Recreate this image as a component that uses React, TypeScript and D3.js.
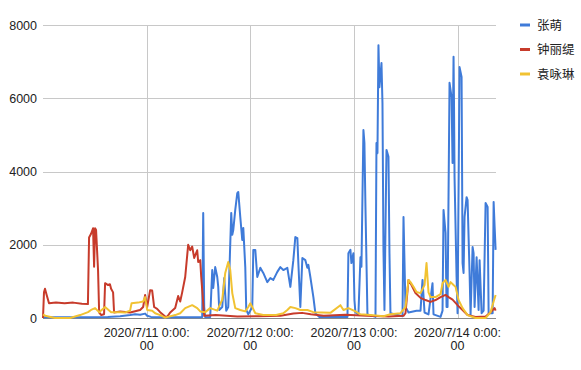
import React, { useEffect, useRef } from 'react';
import * as d3 from 'd3';

// hours since 2020/7/10 0:00 -> value
const zhangMeng: [number, number][] = [
  [0, 20], [10, 20], [15, 30], [17.86, 50], [20.17, 80], [21.33, 100], [22.49, 90], [23.65, 120],
  [24.12, 60], [25, 30], [30, 20], [36.41, 20], [36.87, 30], [37.1, 2870], [37.33, 300], [37.57, 20],
  [38.72, 30], [39.19, 1310], [39.42, 820], [39.88, 1390], [40.35, 1120], [40.58, 850], [40.81, 220],
  [41.51, 300], [41.97, 1090], [42.43, 200], [42.9, 300], [43.59, 2870], [43.83, 2270], [44.06, 2400],
  [44.52, 2950], [44.99, 3410], [45.22, 3440], [45.68, 2760], [46.14, 2130], [46.38, 2460], [46.84, 1390],
  [47.07, 220], [47.54, 100], [48.46, 300], [48.7, 1860], [49.16, 1860], [49.62, 1120], [50.32, 1370],
  [51.01, 1230], [51.94, 980], [52.64, 1090], [53.33, 1040], [54.26, 1260], [54.96, 1390], [55.65, 1310],
  [56.58, 1370], [57.28, 850], [57.97, 1580], [58.43, 2210], [58.9, 2180], [59.13, 1500], [59.59, 300],
  [60.06, 1640], [60.75, 1580], [61.22, 1370], [61.45, 1450], [61.91, 1120], [62.61, 570], [63.07, 130],
  [64, 30], [70.5, 30], [70.72, 1770], [71.19, 1860], [71.42, 1500], [71.88, 1770], [72.12, 490],
  [72.35, 150], [73.04, 100], [73.51, 1660], [73.74, 1400], [74.2, 5130], [74.43, 4780], [74.67, 3030],
  [75.13, 100], [76.99, 30], [77.22, 4780], [77.45, 4500], [77.68, 7450], [77.91, 6300], [78.38, 6960],
  [78.61, 5870], [78.84, 1860], [79.07, 220], [79.54, 4590], [80.0, 4400], [80.23, 1770], [80.46, 130],
  [83.25, 50], [83.48, 2760], [83.94, 300], [84.64, 150], [86.49, 200], [87.42, 200], [87.88, 1040],
  [88.35, 150], [89.27, 100], [90.2, 950], [90.43, 100], [92.06, 30], [92.52, 200], [92.75, 2950],
  [93.22, 2320], [93.45, 300], [93.68, 300], [94.14, 6420], [94.61, 6030], [94.84, 4230], [95.07, 7130],
  [95.18, 5800], [95.3, 3850], [95.77, 1120], [96.0, 130], [96.46, 6850], [96.93, 6580], [97.16, 1500],
  [97.39, 1230], [97.62, 2760], [98.09, 3300], [98.32, 3220], [98.78, 1230], [99.01, 80], [99.48, 1940],
  [99.71, 1770], [99.94, 300], [100.41, 1660], [100.87, 220], [101.1, 1580], [101.57, 130], [102.03, 200],
  [102.49, 3140], [102.96, 3030], [103.19, 130], [104.12, 130], [104.35, 3170], [104.58, 2500], [104.81, 1860],
];

const zhongLiti: [number, number][] = [
  [0, 0], [0.23, 700], [0.46, 800], [0.8, 650], [1.39, 400], [3, 420], [5, 400], [7, 420], [9, 390],
  [10.4, 380], [10.67, 2200], [11.13, 2300], [11.59, 2450], [11.83, 1400], [12.06, 2450], [12.29, 2400],
  [12.75, 1300], [13.0, 150], [13.5, 80], [14.14, 100], [14.38, 950], [15.07, 900], [15.5, 920],
  [15.77, 800], [16.23, 700], [16.46, 150], [17.86, 180], [20.17, 150], [22.49, 220], [23.19, 300],
  [23.65, 630], [24.12, 300], [24.81, 760], [25.28, 750], [25.74, 300], [26.43, 250], [27.13, 160],
  [28.29, 40], [28.75, 30], [29.45, 150], [30.61, 270], [31.3, 600], [31.77, 450], [32.23, 700],
  [32.93, 1120], [33.62, 2000], [34.09, 1850], [34.55, 1950], [35.01, 1640], [35.71, 1850], [35.94, 1530],
  [36.41, 1580], [36.64, 1120], [37.33, 60], [40, 80], [45, 40], [50, 50], [55, 60], [58, 120], [60, 140],
  [62, 100], [65, 60], [70, 90], [75, 60], [80, 40], [83.48, 60], [83.94, 130], [84.64, 1040], [85.33, 900],
  [86.26, 680], [87.42, 550], [88.58, 490], [89.74, 440], [90.9, 490], [92.06, 570], [93.22, 630],
  [93.91, 570], [94.84, 500], [96.0, 350], [97.16, 220], [98.32, 80], [100.17, 30], [102.5, 40],
  [103.65, 160], [104.58, 270], [104.81, 200],
];

const yuanYonglin: [number, number][] = [
  [0, 100], [0.5, 60], [2.78, 0], [6.26, 0], [8.58, 80], [10.43, 160], [11.13, 220], [12.06, 270],
  [12.99, 160], [14.38, 300], [15.77, 160], [17.86, 160], [19, 150], [20.17, 200], [20.5, 400], [22, 420],
  [23.19, 450], [23.65, 570], [24.12, 220], [25.28, 200], [25.97, 130], [27.13, 80], [28.29, 10],
  [30.61, 80], [31.77, 130], [32.93, 270], [34.55, 350], [35.71, 270], [36.41, 180], [37.57, 160],
  [38.72, 270], [40.35, 200], [41.51, 500], [42.2, 1230], [42.9, 1530], [43.36, 1310], [43.83, 680],
  [44.52, 270], [45.68, 220], [46.84, 180], [47.54, 300], [48.0, 400], [48.46, 300], [49.16, 130],
  [51, 80], [54, 80], [55.65, 130], [56.58, 220], [57.28, 300], [58.43, 270], [59.59, 220], [61.22, 220],
  [62.61, 160], [66.55, 140], [68.87, 350], [69.57, 220], [70.72, 270], [72.35, 180], [73.5, 100],
  [75.83, 80], [78.84, 50], [80.46, 100], [82.78, 130], [83.94, 300], [84.64, 1040], [85.1, 980],
  [85.8, 850], [86.49, 710], [87.42, 680], [88.35, 900], [88.81, 1500], [89.27, 700], [89.74, 570],
  [90.9, 570], [92.06, 650], [92.52, 950], [93.22, 1040], [93.91, 850], [94.38, 980], [95.07, 900],
  [95.54, 850], [96.23, 490], [97.16, 270], [98.32, 80], [100.17, 0], [102.49, 0], [103.65, 160],
  [104.35, 450], [104.81, 630],
];

const seriesNames = ['张萌', '钟丽缇', '袁咏琳'];
const seriesColors = ['#3f7bd9', '#c73b2b', '#f1c232'];
const yTicks = [0, 2000, 4000, 6000, 8000];
const xTicks = ['2020-07-11', '2020-07-12', '2020-07-13', '2020-07-14'];

const START = new Date(2020, 6, 10, 0, 0, 0);
const toDate = (h: number) => new Date(START.getTime() + h * 3600 * 1000);

const W = 581;
const H = 370;
const FONT = "Arial, 'Liberation Sans', 'Noto Sans CJK SC', sans-serif";

const App: React.FC = () => {
  const ref = useRef<SVGSVGElement | null>(null);

  useEffect(() => {
    if (!ref.current) return;
    const svg = d3.select(ref.current);
    svg.selectAll('*').remove();

    const x = d3.scaleTime().domain([START, toDate(104.9)]).range([43, 496]);
    const y = d3.scaleLinear().domain([0, 8000]).range([318, 25]);

    svg.append('rect').attr('width', W).attr('height', H).attr('fill', '#fff');

    // horizontal grid + y labels
    const gy = svg.append('g');
    yTicks.forEach(t => {
      gy.append('line')
        .attr('x1', 43).attr('x2', 496)
        .attr('y1', Math.round(y(t)) + 0.5).attr('y2', Math.round(y(t)) + 0.5)
        .attr('stroke', '#c8c8c8');
      gy.append('text')
        .attr('x', 37).attr('y', y(t) + 4.5)
        .attr('text-anchor', 'end')
        .attr('font-family', FONT).attr('font-size', 12.5)
        .attr('fill', '#222')
        .text(t);
    });

    // vertical grid + x labels
    const fmt1 = d3.timeFormat('%Y/%-m/%-d %-H:%M:');
    const fmt2 = d3.timeFormat('%S');
    const gx = svg.append('g');
    xTicks.forEach(s => {
      const [yy, mm, dd] = s.split('-').map(Number);
      const d = new Date(yy, mm - 1, dd);
      const px = Math.round(x(d)) + 0.5;
      gx.append('line')
        .attr('x1', px).attr('x2', px)
        .attr('y1', 25).attr('y2', 318)
        .attr('stroke', '#c8c8c8');
      const t = gx.append('text')
        .attr('text-anchor', 'middle')
        .attr('font-family', FONT).attr('font-size', 12.5)
        .attr('fill', '#222');
      t.append('tspan').attr('x', x(d)).attr('y', 336.5).text(fmt1(d));
      t.append('tspan').attr('x', x(d)).attr('y', 350).text(fmt2(d));
    });

    // baseline
    svg.append('line')
      .attr('x1', 43).attr('x2', 496)
      .attr('y1', y(0) + 0.5).attr('y2', y(0) + 0.5)
      .attr('stroke', '#888');

    const line = d3.line<[number, number]>()
      .x(d => x(toDate(d[0])))
      .y(d => y(d[1]));

    [zhangMeng, zhongLiti, yuanYonglin].forEach((data, i) => {
      svg.append('path')
        .datum(data)
        .attr('fill', 'none')
        .attr('stroke', seriesColors[i])
        .attr('stroke-width', 2)
        .attr('stroke-linejoin', 'round')
        .attr('d', line);
    });

    // legend
    const lg = svg.append('g');
    seriesNames.forEach((name, i) => {
      const cy = 25 + i * 24.5;
      lg.append('line')
        .attr('x1', 520).attr('x2', 530)
        .attr('y1', cy).attr('y2', cy)
        .attr('stroke', seriesColors[i])
        .attr('stroke-width', 3);
      lg.append('text')
        .attr('x', 537).attr('y', cy + 4.5)
        .attr('font-family', FONT).attr('font-size', 12.5)
        .attr('fill', '#222')
        .text(name);
    });
  }, []);

  return (
    <svg
      ref={ref}
      width={W}
      height={H}
      style={{ position: 'absolute', left: 0, top: 0, display: 'block' }}
    />
  );
};

export default App;
